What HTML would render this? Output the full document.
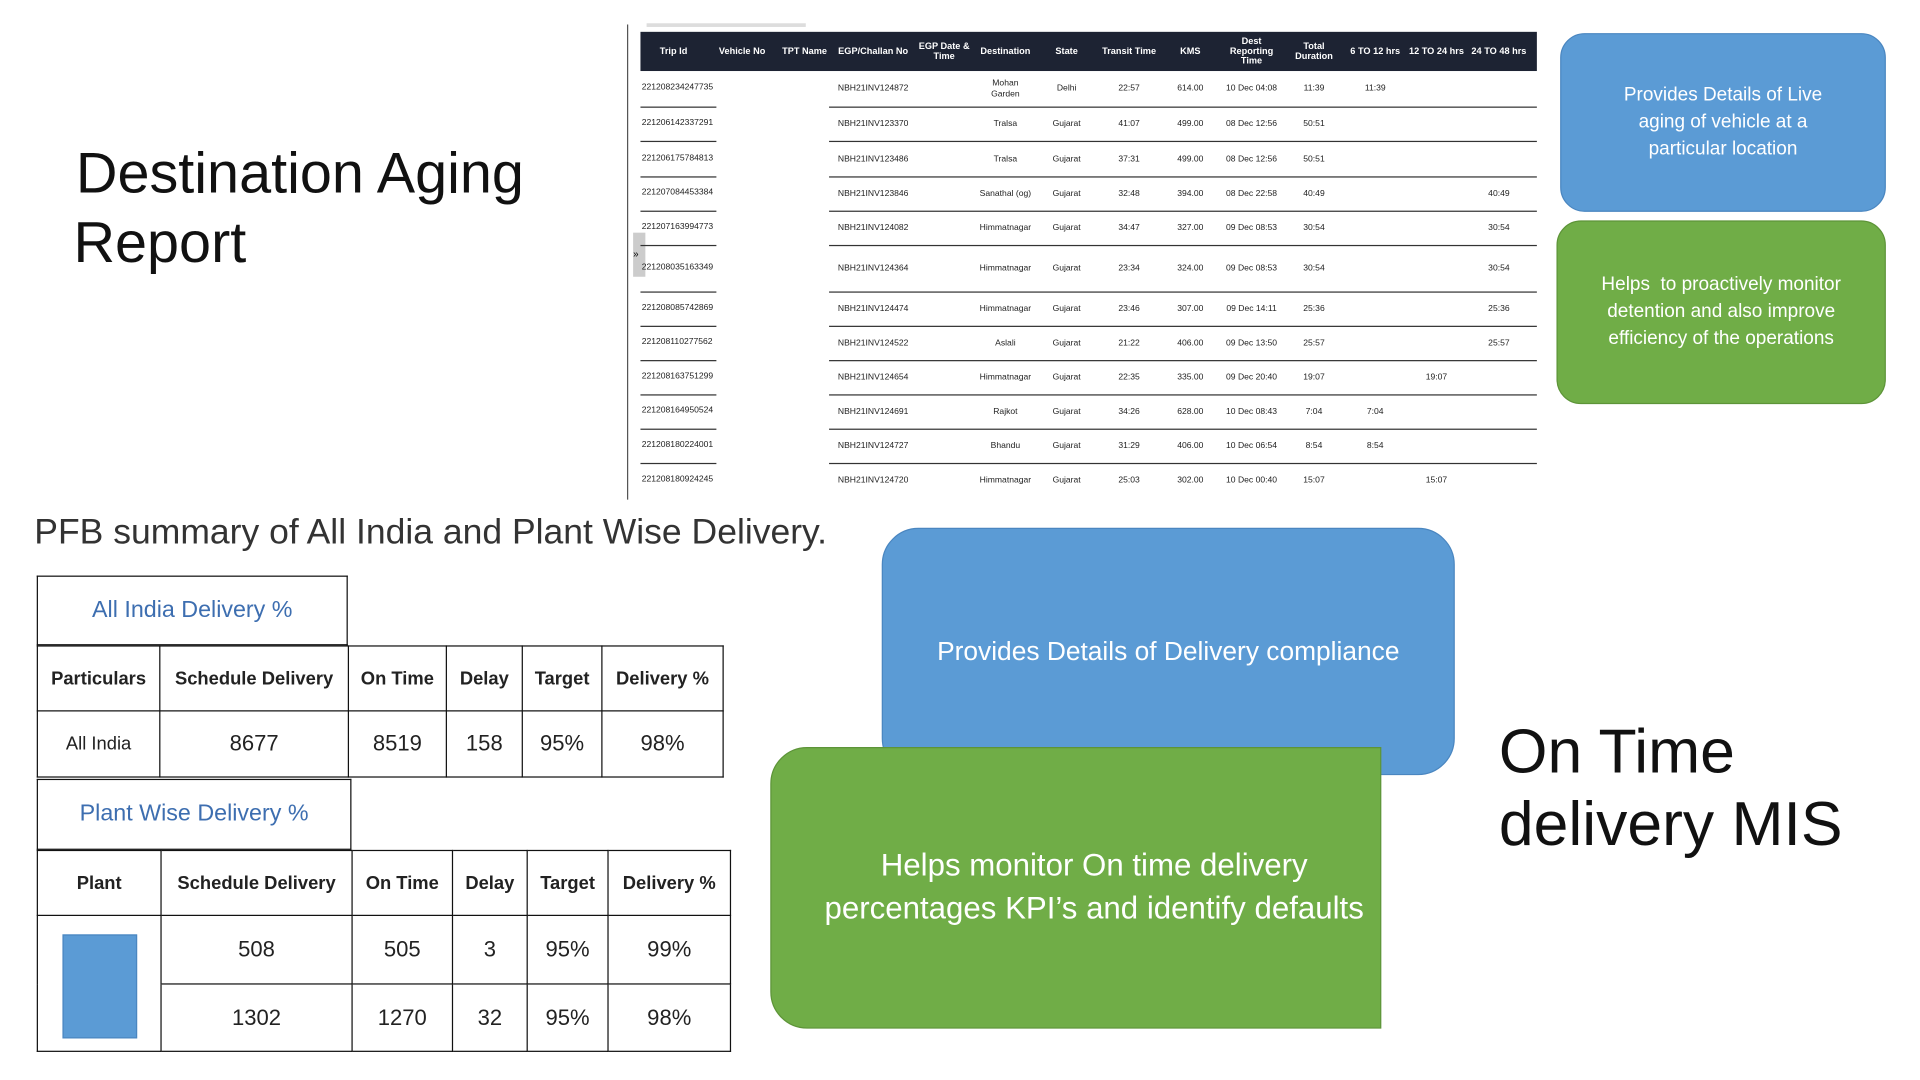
<!DOCTYPE html>
<html><head><meta charset="utf-8"><style>
html,body{margin:0;padding:0;background:#fff;overflow:hidden;width:1920px;height:1080px}
#s{position:absolute;left:0;top:0;width:1568px;height:882px;transform:scale(1.2246);transform-origin:0 0;font-family:"Liberation Sans",sans-serif}
.a{position:absolute}
.t{position:absolute;font-family:"Liberation Sans Narrow","Liberation Sans",sans-serif;font-size:7px;color:#222;white-space:nowrap;transform:translateX(-50%)}
.h{position:absolute;font-family:"Liberation Sans Narrow","Liberation Sans",sans-serif;font-size:7.5px;font-weight:bold;color:#fff;text-align:center;line-height:8px;transform:translate(-50%,-50%);white-space:nowrap}
.ln{position:absolute;height:1px;background:#333}
table{border-collapse:collapse;position:absolute;table-layout:fixed}
td{border:1.5px solid #111;text-align:center;padding:0;font-size:18px;color:#222}
.hd td{font-weight:bold;font-size:15px}
.box{position:absolute;display:flex;align-items:center;justify-content:center;text-align:center;color:#fff}
</style></head><body><div id="s">
<div class="a" style="left:60px;top:112px;font-size:47px;line-height:57px;color:#111"><span style="margin-left:2px">Destination Aging</span><br>Report</div>
<div class="a" style="left:512px;top:20px;width:1px;height:388px;background:#555"></div>
<div class="a" style="left:528px;top:19px;width:130px;height:3px;background:#ddd"></div>
<div class="a" style="left:517px;top:190px;width:10px;height:36px;background:#ccc;font-size:8px;line-height:36px">»</div>
<div class="a" style="left:523px;top:26px;width:732px;height:32px;background:#1d2333"></div>
<div id="tbl"></div>
<div class="box" style="left:1274px;top:27px;width:266px;height:146px;background:#5b9bd5;border-radius:20px;font-size:15.5px;line-height:22px;border:1px solid #4a86c0;box-sizing:border-box;padding:0 30px">Provides Details of Live aging of vehicle at a particular location</div>
<div class="box" style="left:1271px;top:180px;width:269px;height:150px;background:#70ad47;border-radius:20px;font-size:15.5px;line-height:22px;border:1px solid #5d9438;box-sizing:border-box;padding:0 18px">Helps &nbsp;to proactively monitor detention and also improve efficiency of the operations</div>
<div class="a" style="left:28px;top:419px;font-size:29px;color:#333">PFB summary of All India and Plant Wise Delivery.</div>
<table style="left:30px;top:470px;width:254px;height:57px"><tr><td style="color:#3d6eb0;font-size:19px">All India Delivery %</td></tr></table>
<table style="left:30px;top:527px;width:560px"><colgroup><col style="width:100px"><col style="width:154px"><col style="width:80px"><col style="width:62px"><col style="width:65px"><col style="width:99px"></colgroup>
<tr class="hd" style="height:53px"><td>Particulars</td><td>Schedule Delivery</td><td>On Time</td><td>Delay</td><td>Target</td><td>Delivery %</td></tr>
<tr style="height:54px"><td style="font-size:15px">All India</td><td>8677</td><td>8519</td><td>158</td><td>95%</td><td>98%</td></tr></table>
<table style="left:30px;top:636px;width:257px;height:58px"><tr><td style="color:#3d6eb0;font-size:19px">Plant Wise Delivery %</td></tr></table>
<table style="left:30px;top:694px;width:566px"><colgroup><col style="width:101px"><col style="width:156px"><col style="width:82px"><col style="width:61px"><col style="width:66px"><col style="width:100px"></colgroup>
<tr class="hd" style="height:53px"><td>Plant</td><td>Schedule Delivery</td><td>On Time</td><td>Delay</td><td>Target</td><td>Delivery %</td></tr>
<tr style="height:56px"><td style="border-bottom:none"></td><td>508</td><td>505</td><td>3</td><td>95%</td><td>99%</td></tr>
<tr style="height:55px"><td style="border-top:none"></td><td>1302</td><td>1270</td><td>32</td><td>95%</td><td>98%</td></tr></table>
<div class="a" style="left:51px;top:763px;width:61px;height:85px;background:#5b9bd5;border:1px solid #4a86c0;box-sizing:border-box"></div>
<div class="box" style="left:720px;top:431px;width:468px;height:202px;background:#5b9bd5;border-radius:30px;font-size:21.5px;border:1.5px solid #4a86c0;box-sizing:border-box;padding-bottom:0px">Provides Details of Delivery compliance</div>
<div class="box" style="left:629px;top:610px;width:499px;height:230px;background:#70ad47;border-radius:30px 0 0 30px;font-size:25.5px;line-height:35px;border:1.5px solid #5d9438;box-sizing:border-box;padding-bottom:0px;padding-left:30px">Helps monitor On time delivery<br>percentages KPI’s and identify defaults</div>
<div class="a" style="left:1224px;top:584px;font-size:51px;line-height:59px;color:#111">On Time<br>delivery MIS</div>
</div>
<script>
var cols=[550,606,657,713,771,821,871,922,972,1022,1073,1123,1173,1224];
var hd=["Trip Id","Vehicle No","TPT Name","EGP/Challan No","EGP Date &<br>Time","Destination","State","Transit Time","KMS","Dest<br>Reporting<br>Time","Total<br>Duration","6 TO 12 hrs","12 TO 24 hrs","24 TO 48 hrs"];
var h="";
for(var i=0;i<14;i++)h+='<div class="h" style="left:'+cols[i]+'px;top:42px">'+hd[i]+'</div>';
var rows=[
[72,"221208234247735","NBH21INV124872","Mohan<br>Garden","Delhi","22:57","614.00","10 Dec 04:08","11:39","11:39","",""],
[101,"221206142337291","NBH21INV123370","Tralsa","Gujarat","41:07","499.00","08 Dec 12:56","50:51","","",""],
[130,"221206175784813","NBH21INV123486","Tralsa","Gujarat","37:31","499.00","08 Dec 12:56","50:51","","",""],
[158,"221207084453384","NBH21INV123846","Sanathal (og)","Gujarat","32:48","394.00","08 Dec 22:58","40:49","","","40:49"],
[186,"221207163994773","NBH21INV124082","Himmatnagar","Gujarat","34:47","327.00","09 Dec 08:53","30:54","","","30:54"],
[219,"221208035163349","NBH21INV124364","Himmatnagar","Gujarat","23:34","324.00","09 Dec 08:53","30:54","","","30:54"],
[252,"221208085742869","NBH21INV124474","Himmatnagar","Gujarat","23:46","307.00","09 Dec 14:11","25:36","","","25:36"],
[280,"221208110277562","NBH21INV124522","Aslali","Gujarat","21:22","406.00","09 Dec 13:50","25:57","","","25:57"],
[308,"221208163751299","NBH21INV124654","Himmatnagar","Gujarat","22:35","335.00","09 Dec 20:40","19:07","","19:07",""],
[336,"221208164950524","NBH21INV124691","Rajkot","Gujarat","34:26","628.00","10 Dec 08:43","7:04","7:04","",""],
[364,"221208180224001","NBH21INV124727","Bhandu","Gujarat","31:29","406.00","10 Dec 06:54","8:54","8:54","",""],
[392,"221208180924245","NBH21INV124720","Himmatnagar","Gujarat","25:03","302.00","10 Dec 00:40","15:07","","15:07",""]];
var cidx=[3,5,6,7,8,9,10,11,12,13];
var seps=[87,115,144,172,200,238,266,294,322,350,378];
rows.forEach(function(r){
 var y=r[0];
 h+='<div class="t" style="left:524px;top:'+(y-4)+'px;transform:none">'+r[1]+'</div>';
 for(var k=0;k<10;k++){var v=r[k+2];if(!v)continue;var two=v.indexOf("<br>")>0;
  h+='<div class="t" style="left:'+cols[cidx[k]]+'px;top:'+(y-(two?8:4))+'px;text-align:center;line-height:9px">'+v+'</div>';}
});
seps.forEach(function(y){h+='<div class="ln" style="left:523px;top:'+y+'px;width:62px"></div><div class="ln" style="left:677px;top:'+y+'px;width:578px"></div>';});
document.getElementById("tbl").innerHTML=h;
</script>
</body></html>
